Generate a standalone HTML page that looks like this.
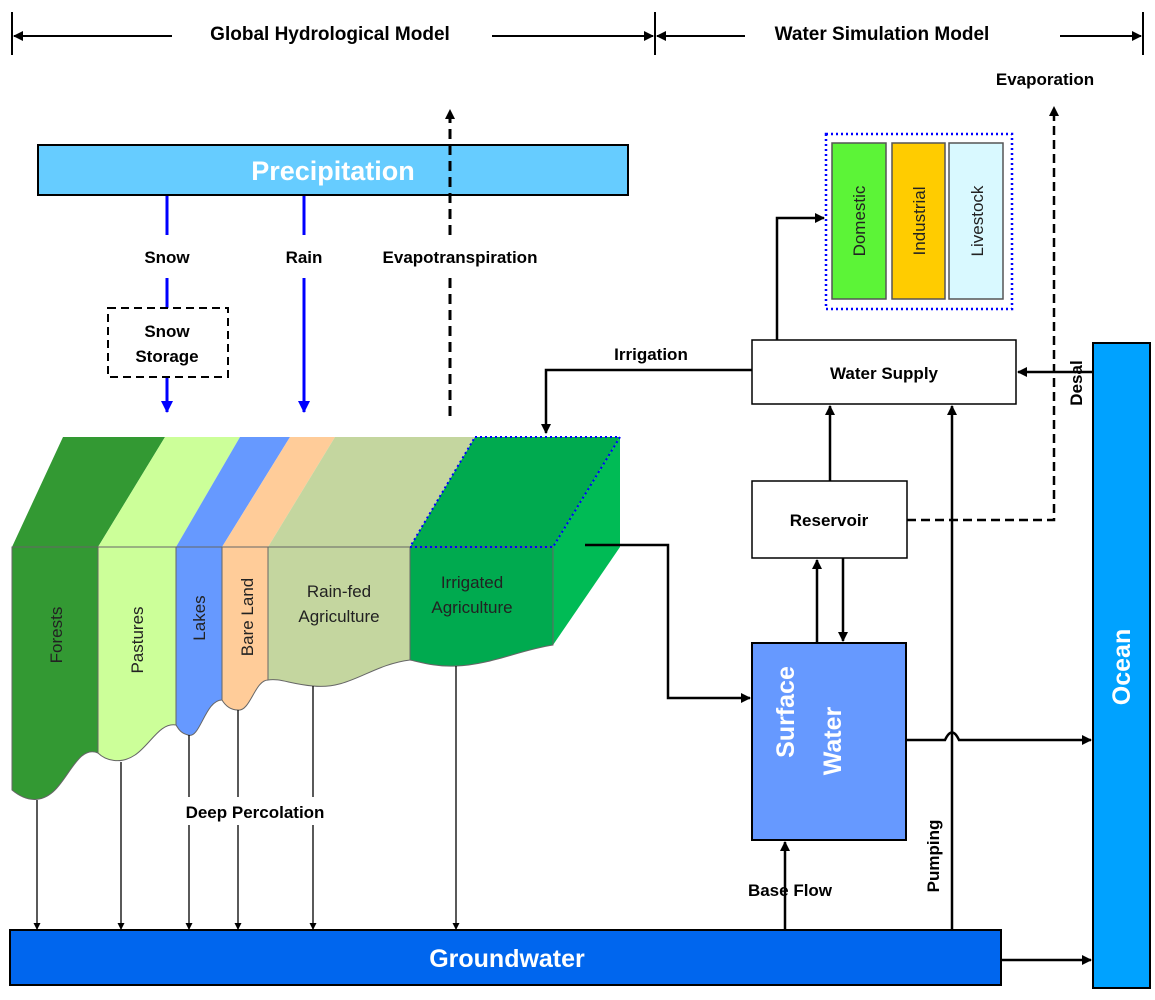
<!DOCTYPE html>
<html><head><style>body{margin:0;background:#fff}svg{display:block}text{font-family:"Liberation Sans",sans-serif}</style></head><body>
<svg width="1155" height="1000" viewBox="0 0 1155 1000" xmlns="http://www.w3.org/2000/svg">
<defs>
<marker id="a" markerWidth="10" markerHeight="10" refX="9" refY="5" orient="auto" markerUnits="userSpaceOnUse"><path d="M0,0 L10,5 L0,10 z" fill="#000"/></marker>
<marker id="b" markerWidth="12" markerHeight="12" refX="11" refY="6" orient="auto" markerUnits="userSpaceOnUse"><path d="M0,0 L12,6 L0,12 z" fill="#00f"/></marker>
<marker id="s" markerWidth="7" markerHeight="7" refX="6" refY="3.5" orient="auto" markerUnits="userSpaceOnUse"><path d="M0,0 L7,3.5 L0,7 z" fill="#000"/></marker>
</defs>
<!-- header -->
<g stroke="#000" stroke-width="2">
<line x1="12" y1="12" x2="12" y2="55"/><line x1="655" y1="12" x2="655" y2="55"/><line x1="1143" y1="12" x2="1143" y2="55"/>
<line x1="172" y1="36" x2="14" y2="36" marker-end="url(#a)"/>
<line x1="492" y1="36" x2="653" y2="36" marker-end="url(#a)"/>
<line x1="745" y1="36" x2="657" y2="36" marker-end="url(#a)"/>
<line x1="1060" y1="36" x2="1141" y2="36" marker-end="url(#a)"/>
</g>
<text x="330" y="40" font-size="19" font-weight="bold" text-anchor="middle">Global Hydrological Model</text>
<text x="882" y="40" font-size="19" font-weight="bold" text-anchor="middle">Water Simulation Model</text>
<!-- precipitation -->
<rect x="38" y="145" width="590" height="50" fill="#66CCFF" stroke="#000" stroke-width="2"/>
<text x="333" y="180" font-size="27" font-weight="bold" fill="#fff" text-anchor="middle">Precipitation</text>
<g stroke="#00f" stroke-width="3">
<line x1="167" y1="196" x2="167" y2="235"/><line x1="167" y1="278" x2="167" y2="308"/>
<line x1="167" y1="377" x2="167" y2="412" marker-end="url(#b)"/>
<line x1="304" y1="196" x2="304" y2="235"/><line x1="304" y1="278" x2="304" y2="412" marker-end="url(#b)"/>
</g>
<rect x="108" y="308" width="120" height="69" fill="none" stroke="#000" stroke-width="2" stroke-dasharray="8,5"/>
<text x="167" y="337" font-size="17" font-weight="bold" text-anchor="middle">Snow</text>
<text x="167" y="362" font-size="17" font-weight="bold" text-anchor="middle">Storage</text>
<text x="167" y="263" font-size="17" font-weight="bold" text-anchor="middle">Snow</text>
<text x="304" y="263" font-size="17" font-weight="bold" text-anchor="middle">Rain</text>
<text x="460" y="263" font-size="17" font-weight="bold" text-anchor="middle">Evapotranspiration</text>
<g stroke="#000" stroke-width="3" stroke-dasharray="10,6" fill="none">
<line x1="450" y1="416" x2="450" y2="278"/><line x1="450" y1="235" x2="450" y2="110" marker-end="url(#a)"/>
</g>
<!-- land strips top -->
<polygon points="63,437 165,437 98,547 12,547" fill="#339933"/>
<polygon points="165,437 240,437 176,547 98,547" fill="#CCFF99"/>
<polygon points="240,437 290,437 222,547 176,547" fill="#6699FF"/>
<polygon points="290,437 335,437 268,547 222,547" fill="#FFCC99"/>
<polygon points="335,437 475,437 410,547 268,547" fill="#C4D69F"/>
<polygon points="475,437 620,437 553,547 410,547" fill="#00AA4F"/>
<polygon points="620,437 620,547 553,645 553,547" fill="#00BB55"/>
<polygon points="475,437 620,437 553,547 410,547" fill="none" stroke="#00f" stroke-width="2" stroke-dasharray="2,3"/>
<!-- front faces -->
<g stroke="#666" stroke-width="1">
<path d="M12,547 H98 V753 C80,745 70,775 55,790 C45,800 30,805 12,790 Z" fill="#339933"/>
<path d="M98,547 H176 V725 C160,722 150,745 135,755 C120,765 105,760 98,753 Z" fill="#CCFF99"/>
<path d="M176,547 H222 V700 C205,700 200,740 188,735 C180,733 178,728 176,725 Z" fill="#6699FF"/>
<path d="M222,547 H268 V680 C255,680 250,712 238,710 C230,710 225,705 222,700 Z" fill="#FFCC99"/>
<path d="M268,547 H410 V660 C370,665 350,690 313,686 C290,684 280,678 268,680 Z" fill="#C4D69F"/>
<path d="M410,547 H553 V645 C520,650 490,665 456,666 C435,667 420,662 410,660 Z" fill="#00AA4F"/>
</g>
<line x1="410" y1="547" x2="553" y2="547" stroke="#00f" stroke-width="2" stroke-dasharray="2,3"/>
<g font-size="17" fill="#222">
<text transform="translate(62,635) rotate(-90)" text-anchor="middle">Forests</text>
<text transform="translate(143,640) rotate(-90)" text-anchor="middle">Pastures</text>
<text transform="translate(205,618) rotate(-90)" text-anchor="middle">Lakes</text>
<text transform="translate(253,617) rotate(-90)" text-anchor="middle">Bare Land</text>
<text x="339" y="597" text-anchor="middle">Rain-fed</text>
<text x="339" y="622" text-anchor="middle">Agriculture</text>
<text x="472" y="588" text-anchor="middle">Irrigated</text>
<text x="472" y="613" text-anchor="middle">Agriculture</text>
</g>
<!-- percolation -->
<g stroke="#000" stroke-width="1.3">
<line x1="37" y1="800" x2="37" y2="929" marker-end="url(#s)"/>
<line x1="121" y1="762" x2="121" y2="929" marker-end="url(#s)"/>
<line x1="189" y1="735" x2="189" y2="929" marker-end="url(#s)"/>
<line x1="238" y1="710" x2="238" y2="929" marker-end="url(#s)"/>
<line x1="313" y1="686" x2="313" y2="929" marker-end="url(#s)"/>
<line x1="456" y1="666" x2="456" y2="929" marker-end="url(#s)"/>
</g>
<rect x="160" y="797" width="190" height="28" fill="#fff"/>
<text x="255" y="818" font-size="17" font-weight="bold" text-anchor="middle">Deep Percolation</text>
<!-- groundwater -->
<rect x="10" y="930" width="991" height="55" fill="#0066EE" stroke="#000" stroke-width="2"/>
<text x="507" y="967" font-size="25" font-weight="bold" fill="#fff" text-anchor="middle">Groundwater</text>
<!-- ocean -->
<rect x="1093" y="343" width="57" height="645" fill="#00A2FF" stroke="#000" stroke-width="2"/>
<text transform="translate(1130,667) rotate(-90)" font-size="25" font-weight="bold" fill="#fff" text-anchor="middle">Ocean</text>
<!-- demand boxes -->
<rect x="826" y="134" width="186" height="175" fill="none" stroke="#00f" stroke-width="2.5" stroke-dasharray="2,3"/>
<rect x="832" y="143" width="54" height="156" fill="#5CF437" stroke="#555" stroke-width="1.5"/>
<rect x="892" y="143" width="53" height="156" fill="#FFCC00" stroke="#555" stroke-width="1.5"/>
<rect x="949" y="143" width="54" height="156" fill="#D9F9FF" stroke="#555" stroke-width="1.5"/>
<g font-size="17" fill="#222">
<text transform="translate(865,221) rotate(-90)" text-anchor="middle">Domestic</text>
<text transform="translate(925,221) rotate(-90)" text-anchor="middle">Industrial</text>
<text transform="translate(983,221) rotate(-90)" text-anchor="middle">Livestock</text>
</g>
<!-- boxes -->
<rect x="752" y="340" width="264" height="64" fill="#fff" stroke="#000" stroke-width="1.5"/>
<text x="884" y="379" font-size="17" font-weight="bold" text-anchor="middle">Water Supply</text>
<rect x="752" y="481" width="155" height="77" fill="#fff" stroke="#000" stroke-width="1.5"/>
<text x="829" y="526" font-size="17" font-weight="bold" text-anchor="middle">Reservoir</text>
<rect x="752" y="643" width="154" height="197" fill="#6699FF" stroke="#000" stroke-width="2"/>
<text x="829" y="735" font-size="25" font-weight="bold" fill="#fff" text-anchor="middle" transform="rotate(-90 800 741)" >Surface</text>
<text transform="translate(841,741) rotate(-90)" font-size="25" font-weight="bold" fill="#fff" text-anchor="middle">Water</text>
<!-- connectors -->
<g stroke="#000" stroke-width="2.5" fill="none">
<polyline points="777,340 777,218 824,218" marker-end="url(#a)"/>
<polyline points="752,370 546,370 546,433" marker-end="url(#a)"/>
<line x1="830" y1="481" x2="830" y2="406" marker-end="url(#a)"/>
<line x1="952" y1="930" x2="952" y2="406" marker-end="url(#a)"/>
<line x1="1093" y1="372" x2="1018" y2="372" marker-end="url(#a)"/>
<polyline points="585,545 668,545 668,698 750,698" marker-end="url(#a)"/>
<line x1="817" y1="643" x2="817" y2="560" marker-end="url(#a)"/>
<line x1="843" y1="558" x2="843" y2="641" marker-end="url(#a)"/>
<path d="M906,740 H945 Q952,725 959,740 H1091" marker-end="url(#a)"/>
<line x1="785" y1="930" x2="785" y2="842" marker-end="url(#a)"/>
<line x1="1001" y1="960" x2="1091" y2="960" marker-end="url(#a)"/>
<polyline points="907,520 1054,520 1054,107" stroke-dasharray="9,5" marker-end="url(#a)"/>
</g>
<text x="651" y="360" font-size="17" font-weight="bold" text-anchor="middle">Irrigation</text>
<text x="1045" y="85" font-size="17" font-weight="bold" text-anchor="middle">Evaporation</text>
<text transform="translate(1082,383) rotate(-90)" font-size="17" font-weight="bold" text-anchor="middle">Desal</text>
<text transform="translate(939,856) rotate(-90)" font-size="17" font-weight="bold" text-anchor="middle">Pumping</text>
<text x="790" y="896" font-size="17" font-weight="bold" text-anchor="middle">Base Flow</text>
</svg>
</body></html>
